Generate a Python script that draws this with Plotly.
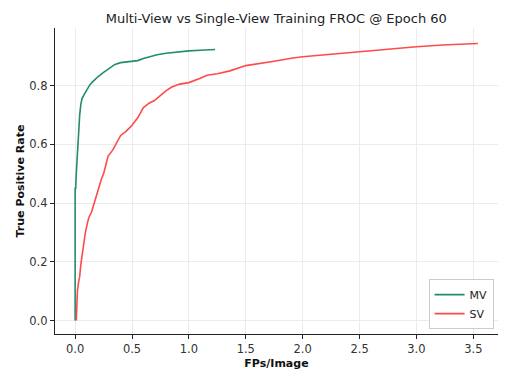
import plotly.graph_objects as go

mv_fps = [0, 0, 0.005, 0.01, 0.015, 0.02, 0.025, 0.03, 0.04, 0.05, 0.06, 0.08, 0.1, 0.13,
          0.16, 0.2, 0.25, 0.3, 0.35, 0.4, 0.45, 0.5, 0.55, 0.6, 0.65, 0.72, 0.8, 0.9,
          1.0, 1.1, 1.23]
mv_tpr = [0, 0.45, 0.45, 0.5, 0.54, 0.58, 0.61, 0.65, 0.7, 0.735, 0.755, 0.77, 0.785, 0.803,
          0.815, 0.83, 0.845, 0.86, 0.872, 0.878, 0.88, 0.882, 0.885, 0.892, 0.898, 0.905,
          0.91, 0.915, 0.918, 0.92, 0.923]

sv_fps = [0.01, 0.015, 0.02, 0.03, 0.04, 0.05, 0.06, 0.07, 0.09, 0.11, 0.12, 0.145, 0.175,
          0.2, 0.23, 0.25, 0.27, 0.29, 0.33, 0.36, 0.4, 0.45, 0.5, 0.55, 0.58, 0.6, 0.65,
          0.7, 0.8, 0.85, 0.92, 1.0, 1.1, 1.16, 1.25, 1.36, 1.5, 1.6, 1.75, 1.9, 2.0, 2.2,
          2.4, 2.5, 2.7, 2.9, 3.0, 3.23, 3.4, 3.54]
sv_tpr = [0, 0.05, 0.1, 0.13, 0.15, 0.19, 0.22, 0.24, 0.3, 0.335, 0.35, 0.37, 0.41,
          0.44, 0.48, 0.5, 0.53, 0.56, 0.58, 0.6, 0.63, 0.645, 0.665, 0.69, 0.71, 0.725, 0.74,
          0.75, 0.783, 0.795, 0.805, 0.81, 0.825, 0.835, 0.84, 0.85, 0.868, 0.875, 0.883, 0.893,
          0.898, 0.905, 0.912, 0.915, 0.92, 0.928, 0.932, 0.938, 0.942, 0.943]

x_ticks = [0.0, 0.5, 1.0, 1.5, 2.0, 2.5, 3.0, 3.5]
y_ticks = [0.0, 0.2, 0.4, 0.6, 0.8]

FONT = "DejaVu Sans"

fig = go.Figure()
fig.add_trace(go.Scatter(x=mv_fps, y=mv_tpr, mode="lines", name="MV",
                         line=dict(color="#238b6f", width=1.6)))
fig.add_trace(go.Scatter(x=sv_fps, y=sv_tpr, mode="lines", name="SV",
                         line=dict(color="#ff4a4a", width=1.6)))

axis_common = dict(showgrid=True, gridcolor="#ebebeb", gridwidth=1, zeroline=False,
                   showline=True, linecolor="#222222", linewidth=1.2,
                   ticks="outside", ticklen=4, tickcolor="#222222", automargin=False,
                   tickfont=dict(family=FONT, size=11.5, color="#333333"))

fig.update_layout(
    width=506, height=372,
    margin=dict(l=55, r=8, t=28, b=38),
    paper_bgcolor="white", plot_bgcolor="white",
    font=dict(family=FONT, color="#222222"),
    title=dict(text="Multi-View vs Single-View Training FROC @ Epoch 60",
               x=0.546, xanchor="center", y=1 - 18 / 372, yanchor="middle",
               yref="container", font=dict(family=FONT, size=13, color="#222222")),
    xaxis=dict(range=[-0.177, 3.717], tickvals=x_ticks,
               ticktext=[f"{v:.1f}" for v in x_ticks],
               title=dict(text="<b>FPs/Image</b>", standoff=4,
                          font=dict(family=FONT, size=11, color="#111111")),
               **axis_common),
    yaxis=dict(range=[-0.046, 0.996], tickvals=y_ticks,
               ticktext=[f"{v:.1f}" for v in y_ticks],
               title=dict(text="<b>True Positive Rate</b>", standoff=2,
                          font=dict(family=FONT, size=11, color="#111111")),
               **axis_common),
    legend=dict(x=0.99, y=0.016, xanchor="right", yanchor="bottom",
                bgcolor="rgba(255,255,255,0.9)", bordercolor="#cccccc", borderwidth=1,
                font=dict(family=FONT, size=11, color="#222222"),
                tracegroupgap=0, itemwidth=30),
    showlegend=True,
)

fig.write_html("out.html")
